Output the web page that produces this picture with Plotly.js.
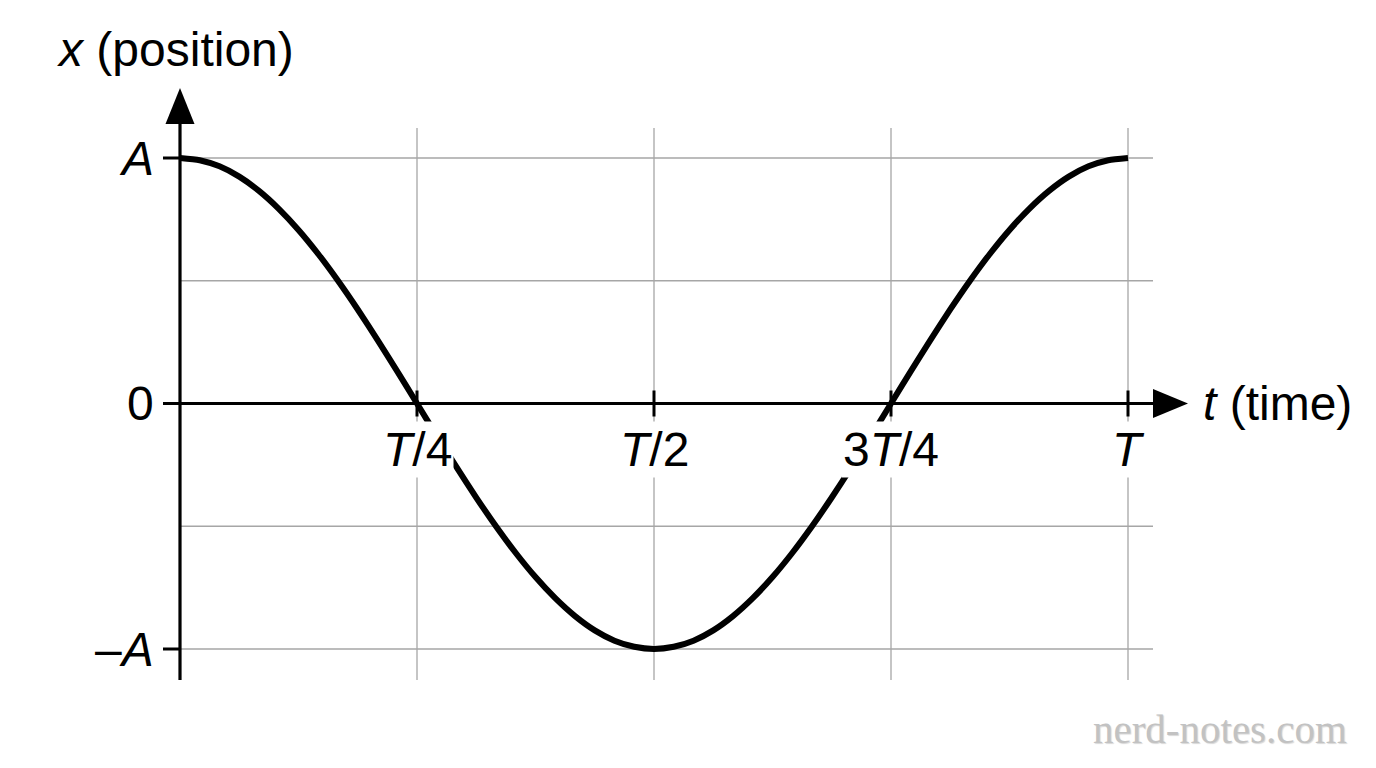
<!DOCTYPE html>
<html>
<head>
<meta charset="utf-8">
<script src="https://cdn.plot.ly/plotly-3.0.1.min.js"></script>
<style>html,body{margin:0;padding:0;background:#fff;}#chart{width:1376px;height:768px;}</style>
</head>
<body>
<div id="chart"></div>
<script>
// ---- data (t in units of T, x in units of A) ----
const tValues = [0, 0.0208, 0.0417, 0.0625, 0.0833, 0.1042, 0.125, 0.1458, 0.1667, 0.1875, 0.2083, 0.2292,
                 0.25, 0.2708, 0.2917, 0.3125, 0.3333, 0.3542, 0.375, 0.3958, 0.4167, 0.4375, 0.4583, 0.4792,
                 0.5, 0.5208, 0.5417, 0.5625, 0.5833, 0.6042, 0.625, 0.6458, 0.6667, 0.6875, 0.7083, 0.7292,
                 0.75, 0.7708, 0.7917, 0.8125, 0.8333, 0.8542, 0.875, 0.8958, 0.9167, 0.9375, 0.9583, 0.9792, 1];
const xValues = [1, 0.991, 0.966, 0.924, 0.866, 0.793, 0.707, 0.609, 0.5, 0.383, 0.259, 0.131,
                 0, -0.131, -0.259, -0.383, -0.5, -0.609, -0.707, -0.793, -0.866, -0.924, -0.966, -0.991,
                 -1, -0.991, -0.966, -0.924, -0.866, -0.793, -0.707, -0.609, -0.5, -0.383, -0.259, -0.131,
                 0, 0.131, 0.259, 0.383, 0.5, 0.609, 0.707, 0.793, 0.866, 0.924, 0.966, 0.991, 1];

const xTickVals = [0.25, 0.5, 0.75, 1];
const xTickText = ['<i>T</i>/4', '<i>T</i>/2', '3<i>T</i>/4', '<i>T</i>'];
const yTickVals = [1, 0, -1];
const yTickText = ['<i>A</i>', '0', '\u2013<i>A</i>'];
const yGridVals = [1, 0.5, -0.5, -1];
const xTitle = '<i>t</i> (time)';
const yTitle = '<i>x</i> (position)';
const watermark = 'nerd-notes.com';

// ---- layout helpers ----
const FONT = '"Liberation Sans", Arial, Helvetica, sans-serif';
const W = 1376, H = 768;
const X0PX = 180, TPX = 948;      // pixel of t=0, pixels per T
const Y0PX = 403.5, APX = 245.5;  // pixel of x=0, pixels per A
const xRange = [-X0PX / TPX, (W - X0PX) / TPX];
const yRange = [(Y0PX - H) / APX, Y0PX / APX];

const gridColor = '#a6a6a6';
const shapes = [];
// vertical grid lines
xTickVals.forEach(v => shapes.push({type:'line', xref:'x', yref:'y', x0:v, x1:v,
  y0:(Y0PX-680)/APX, y1:(Y0PX-128)/APX, line:{color:gridColor, width:1.3}, layer:'below'}));
// horizontal grid lines
yGridVals.forEach(v => shapes.push({type:'line', xref:'x', yref:'y', y0:v, y1:v,
  x0:0, x1:(1153-X0PX)/TPX, line:{color:gridColor, width:1.3}, layer:'below'}));
// y axis line
shapes.push({type:'line', xref:'x', yref:'y', x0:0, x1:0, y0:(Y0PX-680)/APX, y1:(Y0PX-122)/APX,
  line:{color:'#000', width:3.2}});
// x axis line
shapes.push({type:'line', xref:'x', yref:'y', y0:0, y1:0, x0:0, x1:(1156-X0PX)/TPX,
  line:{color:'#000', width:3.2}});
// y arrow head (pixel path anchored at origin)
shapes.push({type:'path', xref:'x', yref:'y', xsizemode:'pixel', ysizemode:'pixel', xanchor:0, yanchor:0,
  path:'M 0 ' + (Y0PX-88) + ' L 14.5 ' + (Y0PX-124) + ' L -14.5 ' + (Y0PX-124) + ' Z',
  fillcolor:'#000', line:{color:'#000', width:0}});
// x arrow head
shapes.push({type:'path', xref:'x', yref:'y', xsizemode:'pixel', ysizemode:'pixel', xanchor:0, yanchor:0,
  path:'M ' + (1188-X0PX) + ' 0 L ' + (1153-X0PX) + ' 14.5 L ' + (1153-X0PX) + ' -14.5 Z',
  fillcolor:'#000', line:{color:'#000', width:0}});
// x tick marks
xTickVals.forEach(v => shapes.push({type:'line', xref:'x', yref:'y', ysizemode:'pixel', yanchor:0,
  x0:v, x1:v, y0:13, y1:-13, line:{color:'#000', width:3}}));
// y tick marks
yTickVals.forEach(v => shapes.push({type:'line', xref:'x', yref:'y', xsizemode:'pixel', xanchor:0,
  y0:v, y1:v, x0:-17, x1:0, line:{color:'#000', width:3}}));

const annotations = [];
xTickVals.forEach((v, i) => annotations.push({x:v, y:0, xref:'x', yref:'y', text:xTickText[i],
  showarrow:false, xanchor:'center', yanchor:'middle', yshift:-46, bgcolor:'#fff', borderpad:1,
  font:{family:FONT, size:48, color:'#000'}}));
yTickVals.forEach((v, i) => annotations.push({x:0, y:v, xref:'x', yref:'y', text:yTickText[i],
  showarrow:false, xanchor:'right', yanchor:'middle', xshift:-24,
  font:{family:FONT, size:48, color:'#000'}}));
annotations.push({x:55/W, y:1-50/H, xref:'paper', yref:'paper', text:yTitle, showarrow:false,
  xanchor:'left', yanchor:'middle', font:{family:FONT, size:48, color:'#000'}});
annotations.push({x:1201/W, y:0, xref:'paper', yref:'y', text:xTitle, showarrow:false,
  xanchor:'left', yanchor:'middle', font:{family:FONT, size:48, color:'#000'}});
annotations.push({x:1349/W, y:1-729/H, xref:'paper', yref:'paper', text:watermark, showarrow:false,
  xanchor:'right', yanchor:'middle',
  font:{family:'"Liberation Serif", "DejaVu Serif", serif', size:41, color:'#c2c2c2',
        shadow:'1px 1px 1px #d8d8d8'}});

const traces = [{x:tValues, y:xValues, type:'scatter', mode:'lines',
  line:{color:'#000', width:6, shape:'spline', smoothing:0.6}, hoverinfo:'skip'}];

const layout = {
  width:W, height:H, margin:{l:0, r:0, t:0, b:0},
  paper_bgcolor:'#fff', plot_bgcolor:'#fff', showlegend:false,
  xaxis:{range:xRange, visible:false, fixedrange:true},
  yaxis:{range:yRange, visible:false, fixedrange:true},
  shapes:shapes, annotations:annotations
};
Plotly.newPlot('chart', traces, layout, {displayModeBar:false, staticPlot:true});
</script>
</body>
</html>
